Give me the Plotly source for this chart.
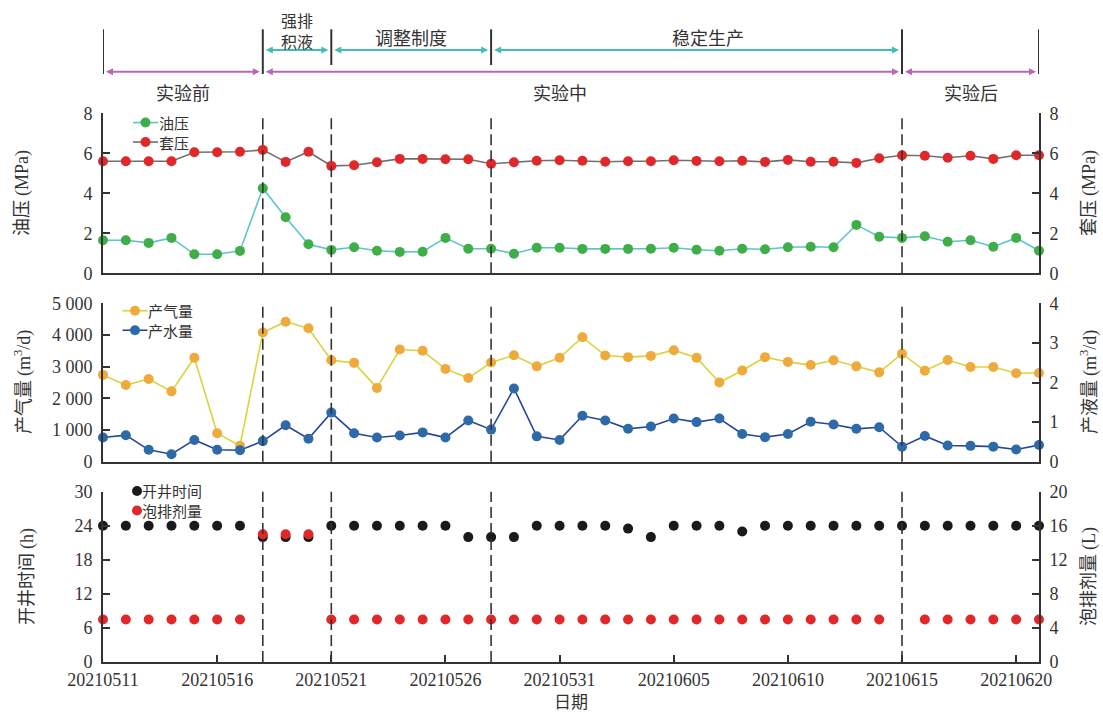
import plotly.graph_objects as go
import pandas as pd

# ---------------- data ----------------
dates = pd.date_range("2021-05-11", "2021-06-21", freq="D")

tubing_pressure = [1.65, 1.65, 1.52, 1.77, 0.95, 0.95, 1.12, 4.25, 2.80, 1.45,
                   1.17, 1.30, 1.13, 1.07, 1.08, 1.77, 1.23, 1.23, 0.98, 1.28,
                   1.28, 1.22, 1.22, 1.22, 1.23, 1.28, 1.18, 1.13, 1.23, 1.20,
                   1.30, 1.33, 1.30, 2.42, 1.83, 1.77, 1.85, 1.58, 1.65, 1.33,
                   1.77, 1.13]
casing_pressure = [5.60, 5.60, 5.60, 5.60, 6.05, 6.05, 6.08, 6.17, 5.57, 6.08,
                   5.37, 5.40, 5.55, 5.72, 5.72, 5.70, 5.70, 5.48, 5.55, 5.63,
                   5.65, 5.63, 5.58, 5.60, 5.60, 5.65, 5.62, 5.60, 5.63, 5.57,
                   5.67, 5.58, 5.58, 5.52, 5.75, 5.90, 5.88, 5.78, 5.88, 5.72,
                   5.90, 5.90]
gas_rate = [2740, 2420, 2610, 2220, 3280, 900, 500, 4080, 4420, 4210,
            3200, 3120, 2330, 3540, 3500, 2930, 2640, 3130, 3360, 3010,
            3280, 3930, 3350, 3300, 3340, 3520, 3280, 2500, 2880, 3300,
            3150, 3050, 3200, 3010, 2820, 3410, 2870, 3210, 2990, 2990,
            2790, 2800]
water_rate = [0.61, 0.67, 0.30, 0.19, 0.55, 0.30, 0.29, 0.52, 0.92, 0.58,
              1.24, 0.72, 0.61, 0.66, 0.74, 0.61, 1.04, 0.81, 1.85, 0.64,
              0.55, 1.16, 1.04, 0.83, 0.89, 1.09, 1.00, 1.09, 0.70, 0.62,
              0.70, 1.01, 0.94, 0.83, 0.87, 0.38, 0.65, 0.41, 0.40, 0.38,
              0.31, 0.42]
open_hours = [24, 24, 24, 24, 24, 24, 24, 22, 22, 22,
              24, 24, 24, 24, 24, 24, 22, 22, 22, 24,
              24, 24, 24, 23.5, 22, 24, 24, 24, 23, 24,
              24, 24, 24, 24, 24, 24, 24, 24, 24, 24,
              24, 24]
foam_dose = [5, 5, 5, 5, 5, 5, 5, 15, 15, 15,
             5, 5, 5, 5, 5, 5, 5, 5, 5, 5,
             5, 5, 5, 5, 5, 5, 5, 5, 5, 5,
             5, 5, 5, 5, 5, None, 5, 5, 5, 5,
             5, 5]

tick_dates = ["2021-05-11", "2021-05-16", "2021-05-21", "2021-05-26", "2021-05-31",
              "2021-06-05", "2021-06-10", "2021-06-15", "2021-06-20"]
divider_dates = ["2021-05-18", "2021-05-21", "2021-05-28", "2021-06-15"]
phase_edges = ["2021-05-11", "2021-05-18", "2021-05-21", "2021-05-28",
               "2021-06-15", "2021-06-21"]

# ---------------- geometry helpers ----------------
W, H = 1103, 715
ML, MR, MT, MB = 103, 64, 0, 53
PW, PH = W - ML - MR, H - MT - MB
PX_PER_DAY = PW / (dates[-1] - dates[0]).days


def fy(px):
    return (H - MB - px) / PH


def fx(px):
    return (px - ML) / PW


def shift(d, px):
    return (pd.Timestamp(d) + pd.Timedelta(days=px / PX_PER_DAY)).isoformat()


INK = "#333333"
SERIF = "Liberation Serif, Times New Roman, serif"
CJK = "Noto Sans CJK SC"
TICK_FONT = dict(family=SERIF, size=18, color=INK)

# series styles: (line colour, marker colour)
STYLE = {
    "油压": ("#5cc6c9", "#3fae49"),
    "套压": ("#707070", "#e0282a"),
    "产气量": ("#d9d43a", "#efaa3c"),
    "产水量": ("#27459a", "#2e6aa8"),
    "开井时间": (None, "#1a1a1a"),
    "泡排剂量": (None, "#e0282a"),
}

fig = go.Figure()


def series(y, name, xa, ya):
    lc, mc = STYLE[name]
    kw = dict(x=dates, y=y, name=name, xaxis=xa, yaxis=ya, cliponaxis=False,
              marker=dict(color=mc, size=10, line=dict(width=0)), showlegend=False)
    if lc:
        kw.update(mode="lines+markers", line=dict(color=lc, width=1.6))
    else:
        kw.update(mode="markers")
    fig.add_trace(go.Scatter(**kw))


series(tubing_pressure, "油压", "x", "y")
series(casing_pressure, "套压", "x", "y2")
series(gas_rate, "产气量", "x2", "y3")
series(water_rate, "产水量", "x2", "y4")
series(open_hours, "开井时间", "x3", "y5")
series(foam_dose, "泡排剂量", "x3", "y6")

x_common = dict(type="date", range=[dates[0], dates[-1]], showline=True, linecolor=INK,
                linewidth=2, showgrid=False, zeroline=False, automargin=False)
y_common = dict(showline=True, linecolor=INK, linewidth=2, showgrid=False, zeroline=False,
                ticks="inside", ticklen=7, tickwidth=2, tickcolor=INK, tickfont=TICK_FONT,
                ticklabelstandoff=5, automargin=False)

dom1 = [fy(273.3), fy(113.3)]
dom2 = [fy(461.7), fy(303.3)]
dom3 = [0, fy(491.7)]

fig.update_layout(
    width=W, height=H,
    margin=dict(l=ML, r=MR, t=MT, b=MB, autoexpand=False),
    paper_bgcolor="white", plot_bgcolor="white",
    separators=". ",
    showlegend=False,
    font=dict(family=CJK, color=INK),
    xaxis=dict(domain=[0, 1], anchor="y", ticks="", showticklabels=False, **x_common),
    xaxis2=dict(domain=[0, 1], anchor="y3", matches="x", ticks="", showticklabels=False,
                **x_common),
    xaxis3=dict(domain=[0, 1], anchor="y5", matches="x", ticks="inside", ticklen=7,
                tickwidth=2, tickcolor=INK, tickvals=tick_dates, tickformat="%Y%m%d",
                tickfont=TICK_FONT, ticklabelstandoff=0, **x_common),
    yaxis=dict(domain=dom1, anchor="x", range=[0, 8], dtick=2, side="left", **y_common),
    yaxis2=dict(domain=dom1, anchor="x", overlaying="y", range=[0, 8], dtick=2,
                side="right", **y_common),
    yaxis3=dict(domain=dom2, anchor="x2", range=[0, 5000], dtick=1000, tickformat=",d",
                side="left", **y_common),
    yaxis4=dict(domain=dom2, anchor="x2", overlaying="y3", range=[0, 4], dtick=1,
                side="right", **y_common),
    yaxis5=dict(domain=dom3, anchor="x3", range=[0, 30], dtick=6, side="left", **y_common),
    yaxis6=dict(domain=dom3, anchor="x3", overlaying="y5", range=[0, 20], dtick=4,
                side="right", **y_common),
)

shapes = []
ann = []

# phase dividers through every panel
for d in divider_dates:
    for yr in ("y domain", "y3 domain", "y5 domain"):
        shapes.append(dict(type="line", xref="x", yref=yr, x0=d, x1=d, y0=0, y1=1,
                           line=dict(color=INK, width=1.6, dash="11px,5px")))

# bracket bars above the charts
long_bars = {"2021-05-11", "2021-05-18", "2021-06-15", "2021-06-21"}
for d in phase_edges:
    bottom = 74 if d in long_bars else 65
    shapes.append(dict(type="line", xref="x", yref="paper", x0=d, x1=d,
                       y0=fy(bottom), y1=fy(29.3), line=dict(color=INK, width=2)))

TEAL = "#3fbfb6"
MAGENTA = "#b967b4"
GAP, HEAD, HALF = 3, 7, 3.5


def span_arrow(a, b, ypx, color):
    y = fy(ypx)
    shapes.append(dict(type="line", xref="x", yref="paper", x0=shift(a, GAP + 2),
                       x1=shift(b, -GAP - 2), y0=y, y1=y, line=dict(color=color, width=2)))
    for anchor, sgn in ((a, 1), (b, -1)):
        tip = sgn * GAP
        base = sgn * (GAP + HEAD)
        shapes.append(dict(type="path", xref="x", yref="paper", xsizemode="pixel",
                           ysizemode="pixel", xanchor=anchor, yanchor=y,
                           path=f"M {tip} 0 L {base} {HALF} L {base} {-HALF} Z",
                           fillcolor=color, line=dict(width=0)))


span_arrow("2021-05-18", "2021-05-21", 50, TEAL)
span_arrow("2021-05-21", "2021-05-28", 50, TEAL)
span_arrow("2021-05-28", "2021-06-15", 50, TEAL)
span_arrow("2021-05-11", "2021-05-18", 71.7, MAGENTA)
span_arrow("2021-05-18", "2021-06-15", 71.7, MAGENTA)
span_arrow("2021-06-15", "2021-06-21", 71.7, MAGENTA)


def label(x, ypx, text, size=18):
    ann.append(dict(x=x, y=fy(ypx), xref="x", yref="paper", text=text, showarrow=False,
                    xanchor="center", yanchor="middle",
                    font=dict(family=CJK, size=size, color=INK)))


label("2021-05-19 12:00", 30.5, "强排<br>积液", 16)
label("2021-05-24 12:00", 36.7, "调整制度")
label("2021-06-06 12:00", 36.7, "稳定生产")
label("2021-05-14 12:00", 91.7, "实验前")
label("2021-05-31", 91.7, "实验中")
label("2021-06-18", 91.7, "实验后")


# in-panel legends: one text block per panel, symbols aligned to its lines
def legend_block(names, cx, ymid, text_x, with_line, fs=15):
    step = 1.3 * fs
    n = len(names)
    for i, name in enumerate(names):
        lc, mc = STYLE[name]
        y = fy(ymid + (i - (n - 1) / 2) * step)
        if with_line:
            shapes.append(dict(type="line", xref="paper", yref="paper", x0=fx(cx - 12.5),
                               x1=fx(cx + 12.5), y0=y, y1=y,
                               line=dict(color=lc, width=1.6)))
        shapes.append(dict(type="circle", xref="paper", yref="paper", xsizemode="pixel",
                           ysizemode="pixel", xanchor=fx(cx), yanchor=y, x0=-5, x1=5,
                           y0=-5, y1=5, fillcolor=mc, line=dict(width=0)))
    ann.append(dict(x=fx(text_x), y=fy(ymid), xref="paper", yref="paper",
                    text="<br>".join(names), align="left", showarrow=False,
                    xanchor="left", yanchor="middle",
                    font=dict(family=CJK, size=fs, color=INK)))


legend_block(["油压", "套压"], 145.5, 132.3, 157, True)
legend_block(["产气量", "产水量"], 135, 320.5, 146, True)
legend_block(["开井时间", "泡排剂量"], 137, 500.8, 140, False)


def axis_title(xpx, ypx, cjk, unit):
    txt = f"{cjk} <span style='font-family:Liberation Serif'>{unit}</span>"
    ann.append(dict(x=fx(xpx), y=fy(ypx), xref="paper", yref="paper", text=txt,
                    showarrow=False, textangle=-90, xanchor="center", yanchor="middle",
                    font=dict(family=CJK, size=18, color=INK)))


axis_title(20, 193, "油压", "(MPa)")
axis_title(1087, 193, "套压", "(MPa)")
axis_title(22, 382, "产气量", "(m<sup>3</sup>/d)")
axis_title(1088, 382, "产液量", "(m<sup>3</sup>/d)")
axis_title(25, 577, "开井时间", "(h)")
axis_title(1087, 577, "泡排剂量", "(L)")
ann.append(dict(x=0.5, y=fy(715), xref="paper", yref="paper", text="日期", showarrow=False,
                xanchor="center", yanchor="bottom",
                font=dict(family=CJK, size=17, color=INK)))

fig.update_layout(shapes=shapes, annotations=ann)

fig.write_html("out.html")
